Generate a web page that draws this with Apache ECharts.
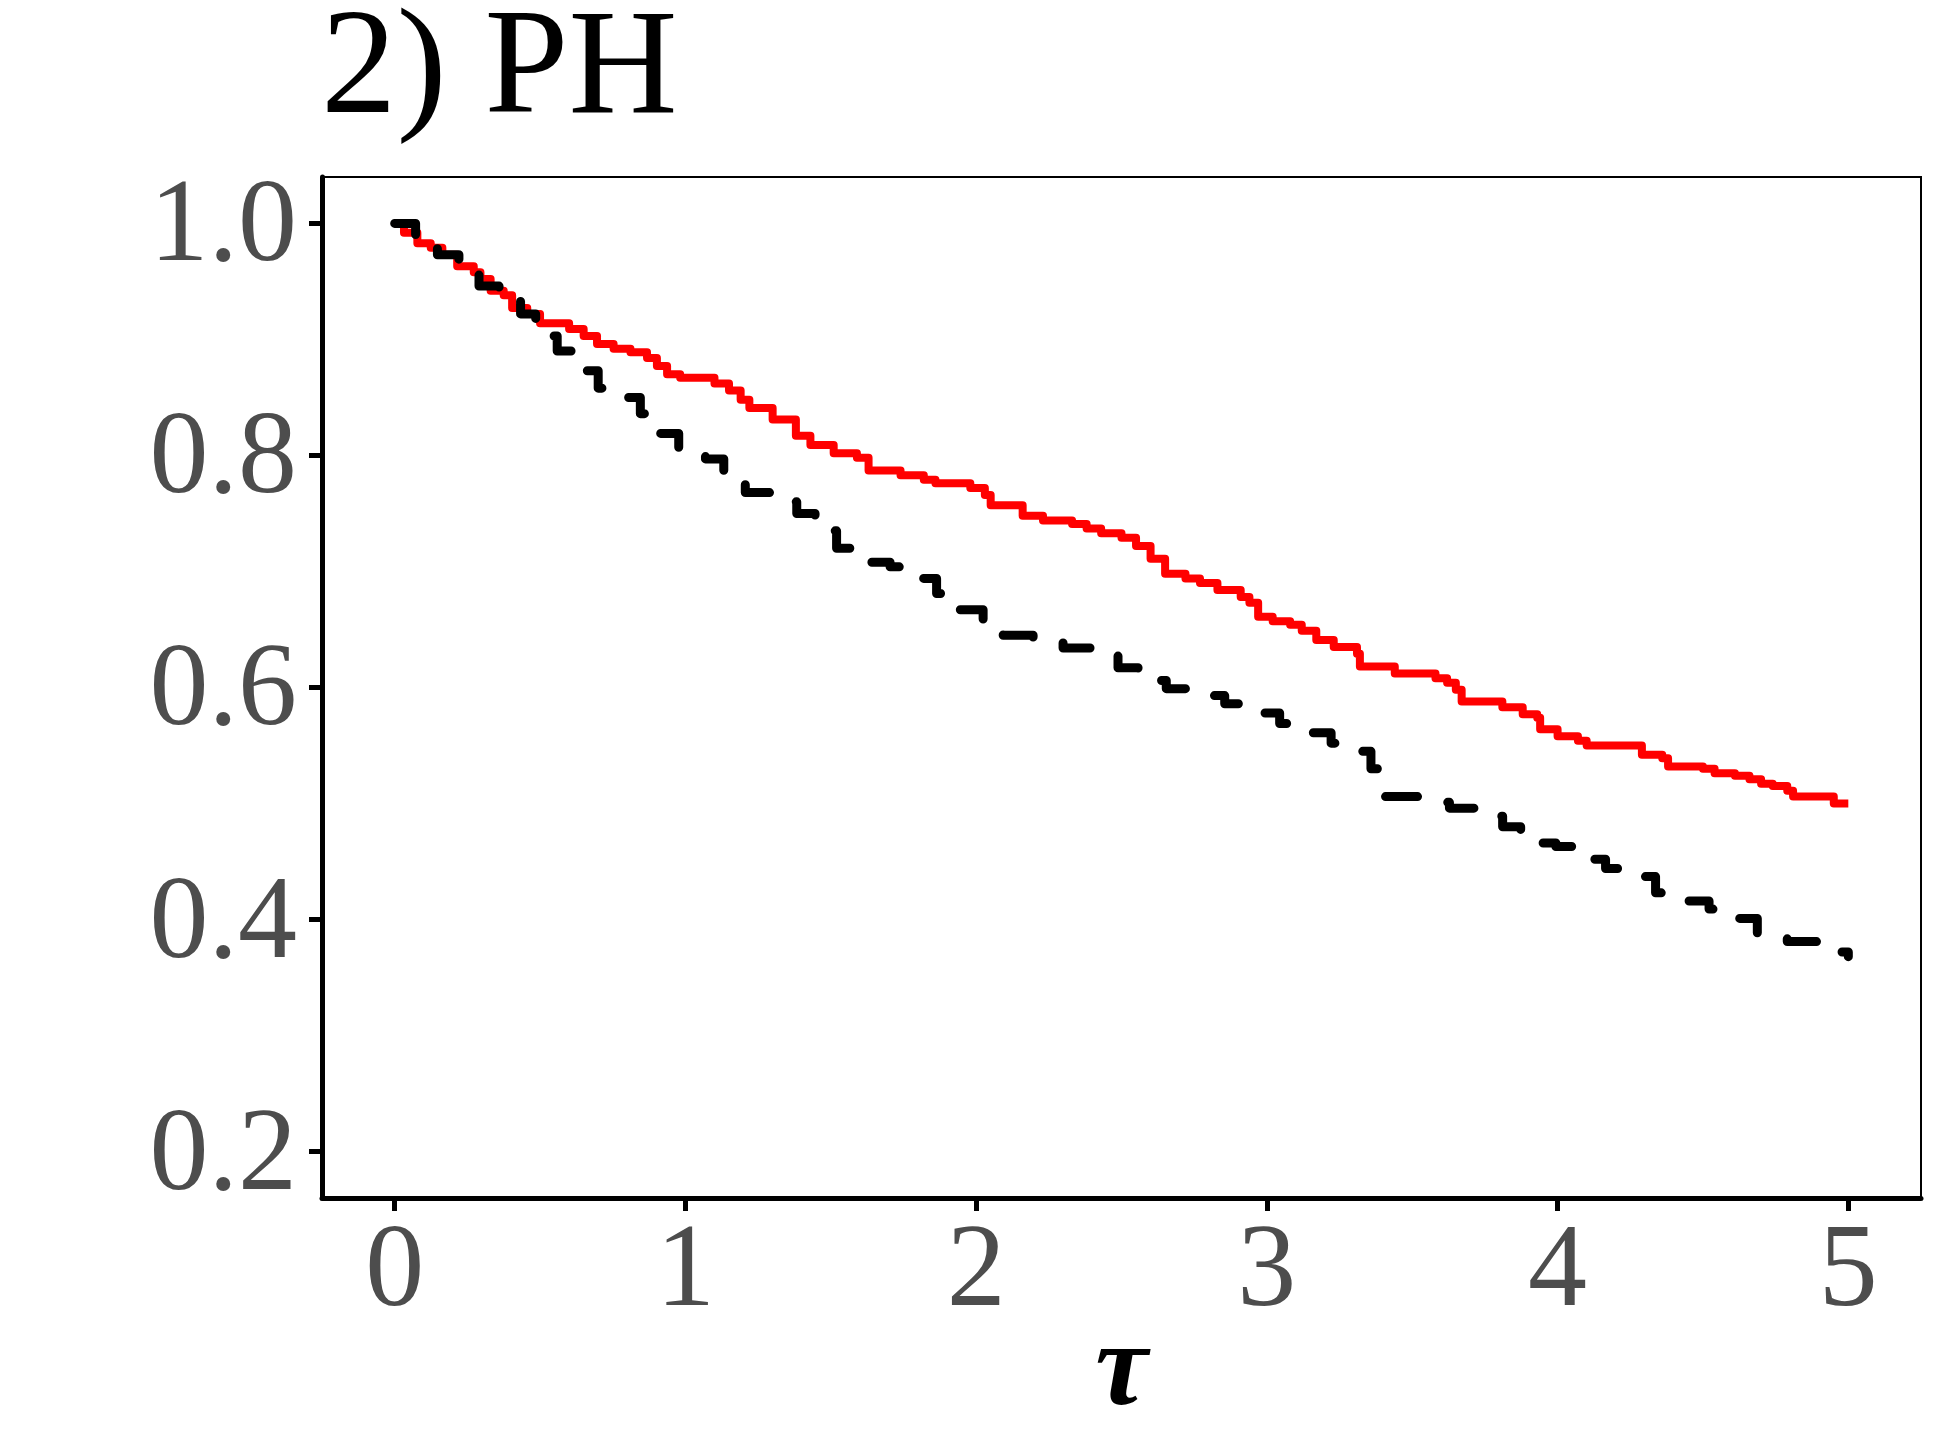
<!DOCTYPE html>
<html>
<head>
<meta charset="utf-8">
<title>2) PH</title>
<script src="https://cdn.jsdelivr.net/npm/echarts@6.0.0/dist/echarts.min.js"></script>
<style>
  html, body { margin: 0; padding: 0; background: #fff; }
  #chart { width: 1937px; height: 1451px; }
</style>
</head>
<body>
<div id="chart"></div>
<script>
// step curves (tau, survival)
const redTau = [0, 0.032, 0.078, 0.124, 0.164, 0.215, 0.272, 0.295, 0.330, 0.375, 0.404, 0.456, 0.50, 0.60,
  0.650, 0.696, 0.753, 0.811, 0.868, 0.902, 0.937, 0.982, 1.10, 1.15, 1.19, 1.22, 1.30, 1.38, 1.43, 1.51,
  1.59, 1.63, 1.74, 1.82, 1.86, 1.98, 2.03, 2.05, 2.16, 2.23, 2.33, 2.38, 2.43, 2.50, 2.55, 2.60, 2.65,
  2.72, 2.77, 2.83, 2.91, 2.94, 2.97, 3.02, 3.08, 3.12, 3.17, 3.23, 3.31, 3.32, 3.44, 3.58, 3.62, 3.65,
  3.67, 3.81, 3.88, 3.93, 3.94, 4.00, 4.07, 4.10, 4.29, 4.36, 4.38, 4.50, 4.54, 4.61, 4.66, 4.70, 4.74,
  4.79, 4.81, 4.95, 5.00];
const redSurv = [1.0, 0.992, 0.983, 0.979, 0.973, 0.963, 0.958, 0.952, 0.942, 0.938, 0.927, 0.922, 0.914, 0.909,
  0.903, 0.896, 0.892, 0.889, 0.884, 0.877, 0.870, 0.867, 0.862, 0.856, 0.848, 0.841, 0.831, 0.817, 0.809, 0.802,
  0.798, 0.787, 0.783, 0.779, 0.776, 0.772, 0.766, 0.757, 0.748, 0.744, 0.741, 0.737, 0.733, 0.729, 0.722, 0.711, 0.698,
  0.694, 0.690, 0.684, 0.678, 0.673, 0.661, 0.657, 0.654, 0.649, 0.641, 0.635, 0.629, 0.618, 0.612, 0.608, 0.604, 0.598,
  0.588, 0.583, 0.577, 0.574, 0.564, 0.558, 0.554, 0.550, 0.542, 0.539, 0.532, 0.530, 0.526, 0.524, 0.521, 0.517, 0.515,
  0.511, 0.506, 0.500, 0.500];

const blackTau = [0, 0.072, 0.147, 0.221, 0.290, 0.359, 0.433, 0.485, 0.559, 0.616, 0.70, 0.76, 0.80, 0.845,
  0.902, 0.977, 1.069, 1.132, 1.206, 1.297, 1.383, 1.446, 1.520, 1.584, 1.704, 1.778, 1.864, 1.932, 2.024,
  2.093, 2.196, 2.299, 2.408, 2.488, 2.557, 2.654, 2.757, 2.855, 2.964, 3.044, 3.130, 3.221, 3.324, 3.358,
  3.380, 3.404, 3.519, 3.628, 3.731, 3.811, 3.873, 3.994, 4.062, 4.165, 4.263, 4.337, 4.429, 4.521, 4.624, 4.687,
  4.790, 4.95, 5.00];
const blackSurv = [1.0, 0.986, 0.973, 0.959, 0.946, 0.935, 0.922, 0.903, 0.890, 0.873, 0.858, 0.855, 0.850, 0.836,
  0.819, 0.804, 0.797, 0.781, 0.768, 0.760, 0.750, 0.735, 0.720, 0.708, 0.704, 0.694, 0.681, 0.667, 0.659,
  0.645, 0.641, 0.634, 0.630, 0.617, 0.606, 0.599, 0.593, 0.586, 0.578, 0.569, 0.561, 0.552, 0.545, 0.530,
  0.517, 0.506, 0.501, 0.496, 0.489, 0.480, 0.466, 0.463, 0.452, 0.444, 0.437, 0.423, 0.416, 0.409, 0.401, 0.386,
  0.381, 0.372, 0.368];

const xTicks = [0, 1, 2, 3, 4, 5];
const yTicks = [0.2, 0.4, 0.6, 0.8, 1.0];

const FONT = '"Liberation Serif", "Times New Roman", serif';

function pairs(xs, ys) {
  return xs.map((x, i) => [x, ys[i]]);
}

const chart = echarts.init(document.getElementById('chart'));

const option = {
  animation: false,
  backgroundColor: '#ffffff',
  title: {
    text: '2) PH',
    left: 321,
    top: -3,
    padding: 0,
    textStyle: { fontFamily: FONT, fontSize: 151, fontWeight: 'normal', color: '#000' }
  },
  grid: {
    left: 322, right: 16, top: 177, bottom: 253,
    containLabel: false,
    outerBoundsMode: 'none',
    show: true,
    borderColor: '#000',
    borderWidth: 2,
    backgroundColor: '#fff'
  },
  xAxis: {
    type: 'value',
    min: -0.25,
    max: 5.25,
    name: 'τ',
    nameLocation: 'middle',
    nameGap: 117,
    nameMoveOverlap: false,
    nameTextStyle: { fontFamily: FONT, fontSize: 118, fontStyle: 'italic', fontWeight: 'bold', color: '#000' },
    axisLine: { show: true, onZero: false, lineStyle: { color: '#000', width: 5 } },
    axisTick: { show: true, length: 13, customValues: xTicks, lineStyle: { color: '#000', width: 5 } },
    axisLabel: { customValues: xTicks, margin: 17, fontFamily: FONT, fontSize: 118, color: '#4D4D4D' },
    splitLine: { show: false }
  },
  yAxis: {
    type: 'value',
    min: 0.16,
    max: 1.04,
    axisLine: { show: true, onZero: false, lineStyle: { color: '#000', width: 5 } },
    axisTick: { show: true, length: 13, customValues: yTicks, lineStyle: { color: '#000', width: 5 } },
    axisLabel: {
      customValues: yTicks,
      margin: 25,
      verticalAlign: 'top',
      lineHeight: 12,
      fontFamily: FONT, fontSize: 118, color: '#4D4D4D',
      formatter: v => v.toFixed(1)
    },
    splitLine: { show: false }
  },
  series: [
    {
      name: 'red',
      type: 'line',
      step: 'end',
      showSymbol: false,
      data: pairs(redTau, redSurv),
      lineStyle: { color: '#ff0000', width: 8, join: 'round' }
    },
    {
      name: 'black',
      type: 'line',
      step: 'end',
      showSymbol: false,
      data: pairs(blackTau, blackSurv),
      lineStyle: { color: '#000000', width: 9, type: [32, 36], cap: 'round', join: 'round' }
    }
  ]
};

chart.setOption(option);
</script>
</body>
</html>
